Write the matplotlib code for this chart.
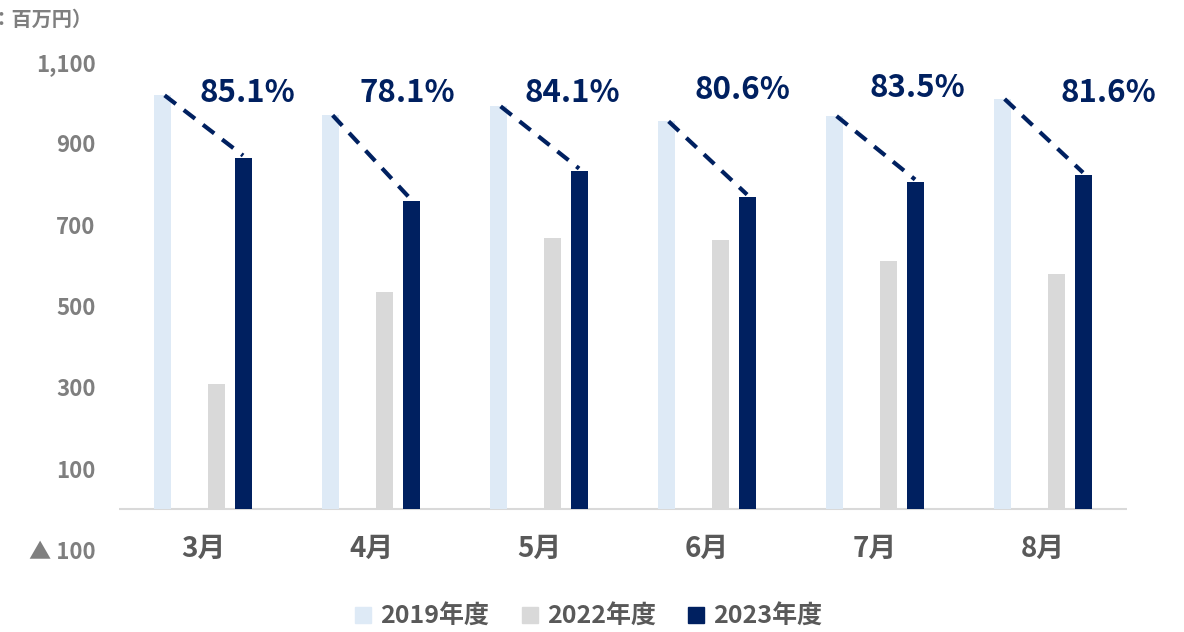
import matplotlib
matplotlib.use("Agg")
import matplotlib.pyplot as plt
from matplotlib.lines import Line2D
import numpy as np

plt.rcParams['font.family'] = ['Noto Sans CJK JP', 'DejaVu Sans']

months = ['3月', '4月', '5月', '6月', '7月', '8月']
v2019 = [1018, 969, 991, 954, 967, 1009]
v2022 = [307, 535, 668, 663, 611, 579]
v2023 = [865, 757, 833, 769, 806, 823]
ratios = ['85.1%', '78.1%', '84.1%', '80.6%', '83.5%', '81.6%']
ytick_vals = [-100, 100, 300, 500, 700, 900, 1100]
ytick_labels = ['▲ 100', '100', '300', '500', '700', '900', '1,100']
series_names = ['2019年度', '2022年度', '2023年度']

c19 = '#DEEAF6'
c22 = '#D9D9D9'
c23 = '#002060'
gray = '#7F7F7F'
dark = '#595959'

fig = plt.figure(figsize=(11.84, 6.32), dpi=100)
ax = fig.add_axes([119/1184, 1 - 550/632, (1127-119)/1184, (550-62)/632])

x = np.arange(len(months))
slot = 0.159
w = 0.101
ax.bar(x - 1.5*slot, v2019, w, color=c19)
ax.bar(x + 0.5*slot, v2022, w, color=c22)
ax.bar(x + 1.5*slot, v2023, w, color=c23)

# dashed connectors
for i in range(len(months)):
    ax.plot([x[i] - 1.5*slot + 0.01, x[i] + 1.5*slot], [v2019[i], v2023[i] + 5],
            color=c23, lw=3, dashes=(3.4, 2.4), solid_capstyle='butt', zorder=3)

# ratio labels
lab_dx = [0.262, 0.214, 0.196, 0.208, 0.25, 0.387]
lab_y = [1025, 1025, 1025, 1032, 1037, 1025]
for i in range(len(months)):
    ax.text(x[i] + lab_dx[i], lab_y[i], ratios[i], ha='center', va='center',
            fontsize=22.5, fontweight='bold', color=c23)

ax.set_xlim(-0.5, 5.5)
ax.set_ylim(-100, 1100)
ax.axhline(0, color='#D9D9D9', lw=1.5, zorder=0)
for s in ax.spines.values():
    s.set_visible(False)

ax.set_yticks(ytick_vals)
ax.set_yticklabels(ytick_labels)
ax.set_xticks(x)
ax.set_xticklabels(months)
ax.tick_params(axis='y', length=0, pad=17, labelsize=16, labelcolor=gray)
ax.tick_params(axis='x', length=0, pad=-11, labelsize=20, labelcolor=dark)
for t in ax.get_yticklabels() + ax.get_xticklabels():
    t.set_fontweight('bold')

fig.text(93/1184, 1 - 19/632, '（単位：百万円）', ha='right', va='center',
         fontsize=14.5, fontweight='bold', color=gray)

handles = [Line2D([], [], marker='s', linestyle='none', markersize=11, color=c)
           for c in (c19, c22, c23)]
leg = fig.legend(handles, series_names, loc='center', bbox_to_anchor=(0.496, 1 - 617/632),
                 ncol=3, frameon=False, handlelength=0.9, handletextpad=0.25,
                 columnspacing=1.15, prop={'size': 18, 'weight': 'bold'})
for t in leg.get_texts():
    t.set_color(dark)

fig.savefig('out.png', dpi=100)
